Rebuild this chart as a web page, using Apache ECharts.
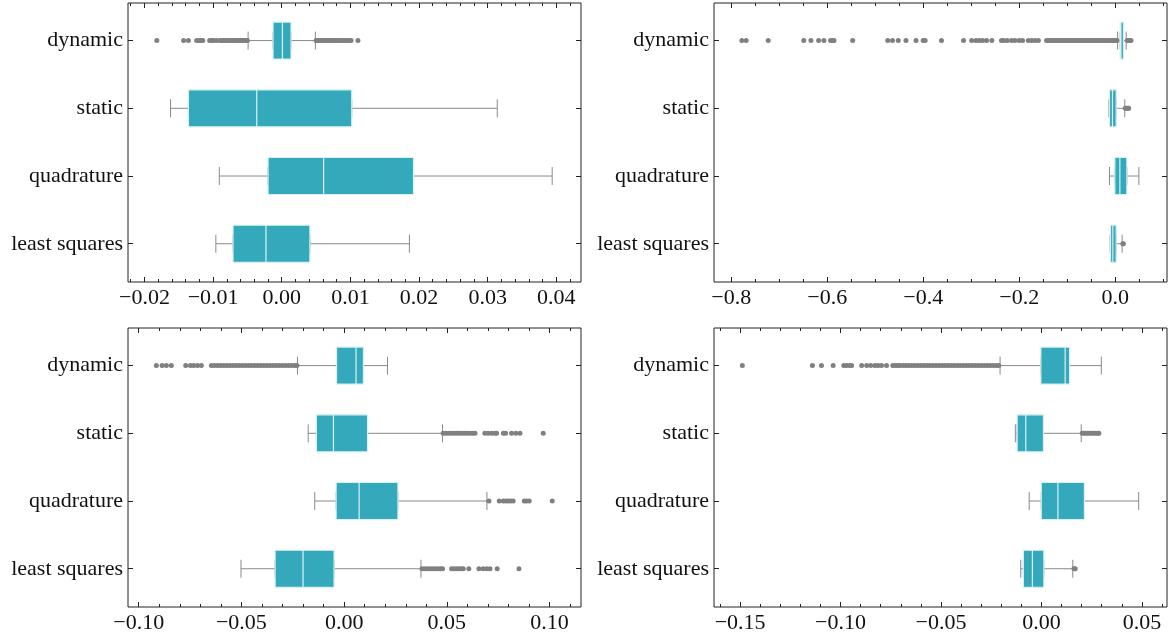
<!DOCTYPE html>
<html><head><meta charset="utf-8">
<script src="https://cdn.jsdelivr.net/npm/echarts@6/dist/echarts.min.js"></script>
<style>html,body{margin:0;padding:0;background:#fff}#c{width:1171px;height:639px}</style>
</head><body><div id="c"></div>
<script>
const categories = ['dynamic', 'static', 'quadrature', 'least squares'];

// Box statistics per category: [whiskerLow, Q1, median, Q3, whiskerHigh]
const statsTL = [
  [-0.0049, -0.00127, 0.0001, 0.00135, 0.0049],
  [-0.0162, -0.0136, -0.00364, 0.0102, 0.0314],
  [-0.0091, -0.0020, 0.0061, 0.0192, 0.0394],
  [-0.0096, -0.0071, -0.0023, 0.0041, 0.0186]
];
const statsTR = [
  [0.005, 0.0104, 0.012, 0.0174, 0.023],
  [-0.013, -0.0119, -0.0056, 0.0021, 0.020],
  [-0.0119, -0.0007, 0.0098, 0.0244, 0.0494],
  [-0.0104, -0.0098, -0.0048, 0.0021, 0.0145]
];
const statsBL = [
  [-0.0227, -0.0037, 0.0058, 0.0094, 0.0211],
  [-0.0175, -0.0135, -0.0052, 0.0114, 0.0479],
  [-0.0143, -0.0039, 0.0073, 0.0262, 0.0695],
  [-0.0502, -0.0336, -0.0200, -0.0049, 0.0374]
];
const statsBR = [
  [-0.0206, -0.0003, 0.0118, 0.0140, 0.0298],
  [-0.0130, -0.0121, -0.0078, 0.0010, 0.0198],
  [-0.0061, -0.0001, 0.0082, 0.0214, 0.0484],
  [-0.0103, -0.0090, -0.0045, 0.0012, 0.0156]
];

// Outliers per category (dynamic, static, quadrature, least squares)
const outliersTL = [
  [-0.0182, -0.0143, -0.0136, -0.0124, -0.0121, -0.0118, -0.0115, -0.0105, -0.0102, -0.0099, -0.0095,
   -0.0090, -0.0087, -0.0085, -0.0082, -0.0080, -0.0077, -0.0075, -0.0072, -0.0070, -0.0068, -0.0066,
   -0.0064, -0.0062, -0.0060, -0.0058, -0.0056, -0.0054, -0.0052, -0.0050,
   0.0050, 0.0052, 0.0054, 0.0056, 0.0058, 0.0060, 0.0062, 0.0064, 0.0066, 0.0068, 0.0070, 0.0072,
   0.0074, 0.0076, 0.0078, 0.0080, 0.0083, 0.0086, 0.0089, 0.0092, 0.0095, 0.0098, 0.0101, 0.0111],
  [], [], []
];
const outliersTR = [
  [-0.778, -0.769, -0.723, -0.649, -0.634, -0.618, -0.607, -0.593, -0.589, -0.586, -0.547,
   -0.474, -0.464, -0.452, -0.436, -0.415, -0.400, -0.396, -0.362, -0.316, -0.299, -0.290,
   -0.283, -0.276, -0.268, -0.257, -0.237, -0.232, -0.225, -0.216, -0.209, -0.200, -0.193,
   -0.181, -0.174, -0.167, -0.160,
   -0.143, -0.139, -0.135, -0.131, -0.127, -0.123, -0.119, -0.115, -0.111, -0.107, -0.103,
   -0.099, -0.095, -0.091, -0.087, -0.083, -0.079, -0.075, -0.071, -0.067, -0.063, -0.059,
   -0.055, -0.051, -0.047, -0.043, -0.039, -0.035, -0.031, -0.027, -0.023, -0.019, -0.015,
   -0.011, -0.007, -0.003, 0.001, 0.004,
   0.025, 0.027, 0.029, 0.031, 0.033],
  [0.021, 0.023, 0.025, 0.027, 0.028],
  [],
  [0.016, 0.017]
];
const outliersBL = [
  [-0.0914, -0.0886, -0.0865, -0.0841, -0.0771, -0.0748, -0.0732, -0.0714, -0.0695,
   -0.0646, -0.0631, -0.0616, -0.0601, -0.0586, -0.0571, -0.0556, -0.0541, -0.0526, -0.0511,
   -0.0496, -0.0481, -0.0466, -0.0451, -0.0436, -0.0421, -0.0406, -0.0391, -0.0376, -0.0361,
   -0.0346, -0.0331, -0.0316, -0.0301, -0.0286, -0.0271, -0.0256, -0.0241, -0.0230],
  [0.0482, 0.0495, 0.0508, 0.0521, 0.0534, 0.0547, 0.0560, 0.0573, 0.0586, 0.0599, 0.0612,
   0.0625, 0.0637, 0.0685, 0.0701, 0.0718, 0.0734, 0.0742, 0.0775, 0.0786, 0.0815, 0.0836,
   0.0856, 0.0969],
  [0.0705, 0.0755, 0.0775, 0.0788, 0.0799, 0.0811, 0.0823, 0.0877, 0.0888, 0.0901, 0.1013],
  [0.0379, 0.0392, 0.0405, 0.0418, 0.0431, 0.0444, 0.0457, 0.0470, 0.0479, 0.0523, 0.0535,
   0.0548, 0.0560, 0.0572, 0.0580, 0.0607, 0.0656, 0.0677, 0.0694, 0.0710, 0.0745, 0.0851]
];
const outliersBR = [
  [-0.1489, -0.1140, -0.1095, -0.1037, -0.0984, -0.0970, -0.0954, -0.0945, -0.0895, -0.0870,
   -0.0850, -0.0829, -0.0813, -0.0796, -0.0771, -0.0740, -0.0728, -0.0716, -0.0704, -0.0688,
   -0.0674, -0.0660, -0.0645, -0.0630, -0.0615, -0.0600, -0.0585, -0.0570, -0.0555, -0.0540,
   -0.0525, -0.0510, -0.0495, -0.0480, -0.0465, -0.0450, -0.0435, -0.0420, -0.0405, -0.0390,
   -0.0375, -0.0360, -0.0345, -0.0330, -0.0315, -0.0300, -0.0285, -0.0270, -0.0255, -0.0240,
   -0.0225, -0.0212],
  [0.0203, 0.0212, 0.0221, 0.0230, 0.0240, 0.0250, 0.0260, 0.0270, 0.0280, 0.0286],
  [],
  [0.0162, 0.0168]
];

// Tick labels (major ticks) per panel
const ticksTL = [-0.02, -0.01, 0.00, 0.01, 0.02, 0.03, 0.04];
const ticksTR = [-0.8, -0.6, -0.4, -0.2, 0.0];
const ticksBL = [-0.10, -0.05, 0.00, 0.05, 0.10];
const ticksBR = [-0.15, -0.10, -0.05, 0.00, 0.05];

const panels = [
  {stats: statsTL, out: outliersTL, ticks: ticksTL, dec: 2, minorStep: 0.002, min: -0.0224, max: 0.0436, grid: {left: 128, top: 3, width: 453, height: 279}},
  {stats: statsTR, out: outliersTR, ticks: ticksTR, dec: 1, minorStep: 0.05, min: -0.836, max: 0.108, grid: {left: 714, top: 3, width: 453, height: 279}},
  {stats: statsBL, out: outliersBL, ticks: ticksBL, dec: 2, minorStep: 0.01, min: -0.1052, max: 0.1153, grid: {left: 128, top: 328, width: 453, height: 279}},
  {stats: statsBR, out: outliersBR, ticks: ticksBR, dec: 2, minorStep: 0.01, min: -0.163, max: 0.0625, grid: {left: 714, top: 328, width: 453, height: 279}}
];

const FONT = "'Liberation Serif', 'DejaVu Serif', serif";
const TEAL = '#33a9bb';
const GRAY = '#8a8a8a';

function minorValues(p) {
  const vals = [];
  const start = Math.ceil(p.min / p.minorStep);
  const end = Math.floor(p.max / p.minorStep);
  for (let k = start; k <= end; k++) vals.push(+(k * p.minorStep).toFixed(6));
  return vals;
}
function fmt(v, d) {
  const s = Math.abs(v).toFixed(d);
  return (v < -1e-12 ? '\u2212' : '') + s;
}

const grids = [], xAxes = [], yAxes = [], series = [];
panels.forEach((p, g) => {
  grids.push(Object.assign({show: true, borderColor: '#222', borderWidth: 1, outerBoundsMode: 'none', containLabel: false}, p.grid));
  const minors = minorValues(p);
  const base = {type: 'value', gridIndex: g, min: p.min, max: p.max, axisLine: {show: false, onZero: false}, splitLine: {show: false}};
  xAxes.push(Object.assign({}, base, {position: 'bottom',
    axisTick: {show: true, inside: true, length: 5, lineStyle: {color: '#222', width: 1}, customValues: p.ticks},
    axisLabel: {show: true, margin: 5, customValues: p.ticks, fontFamily: FONT, fontSize: 22, color: '#111', formatter: v => fmt(v, p.dec)}}));
  xAxes.push(Object.assign({}, base, {position: 'bottom',
    axisTick: {show: true, inside: true, length: 3, lineStyle: {color: '#222', width: 1}, customValues: minors},
    axisLabel: {show: false}}));
  xAxes.push(Object.assign({}, base, {position: 'top',
    axisTick: {show: true, inside: true, length: 5, lineStyle: {color: '#222', width: 1}, customValues: p.ticks},
    axisLabel: {show: false}}));
  xAxes.push(Object.assign({}, base, {position: 'top',
    axisTick: {show: true, inside: true, length: 3, lineStyle: {color: '#222', width: 1}, customValues: minors},
    axisLabel: {show: false}}));
  const catIdx = categories.map((c, i) => i);
  const ybase = {type: 'value', gridIndex: g, min: -0.555, max: 3.565, inverse: true, axisLine: {show: false, onZero: false}, splitLine: {show: false}};
  yAxes.push(Object.assign({}, ybase, {position: 'left',
    axisTick: {show: true, inside: true, length: 5, lineStyle: {color: '#222', width: 1}, customValues: catIdx},
    axisLabel: {show: true, margin: 5, customValues: catIdx, fontFamily: FONT, fontSize: 22, color: '#111', formatter: v => categories[Math.round(v)]}}));
  yAxes.push(Object.assign({}, ybase, {position: 'right',
    axisTick: {show: true, inside: true, length: 5, lineStyle: {color: '#222', width: 1}, customValues: catIdx},
    axisLabel: {show: false}}));

  const xi = g * 4, yi = g * 2;
  series.push({
    type: 'boxplot', layout: 'vertical', xAxisIndex: xi, yAxisIndex: yi, boxWidth: [18, 18], silent: true,
    itemStyle: {color: TEAL, borderColor: GRAY, borderWidth: 1},
    data: p.stats.map((s, i) => [i, s[0], s[1], s[2], s[3], s[4]]), z: 2
  });
  const pts = [];
  p.out.forEach((arr, i) => arr.forEach(v => pts.push([v, i])));
  series.push({
    type: 'scatter', xAxisIndex: xi, yAxisIndex: yi, symbol: 'circle', symbolSize: 5, silent: true,
    itemStyle: {color: '#808080', opacity: 1}, data: pts, z: 3
  });
  series.push({
    type: 'boxplot', layout: 'vertical', xAxisIndex: xi + 2, yAxisIndex: yi + 1, boxWidth: [37, 37], silent: true,
    itemStyle: {color: TEAL, borderColor: '#d9f1f4', borderWidth: 1.2},
    data: p.stats.map((s, i) => [i, s[1], s[1], s[2], s[3], s[3]]), z: 4
  });
});

const chart = echarts.init(document.getElementById('c'), null, {renderer: 'canvas'});
chart.setOption({
  animation: false,
  backgroundColor: '#fff',
  grid: grids, xAxis: xAxes, yAxis: yAxes, series: series
});
</script>
</body></html>
